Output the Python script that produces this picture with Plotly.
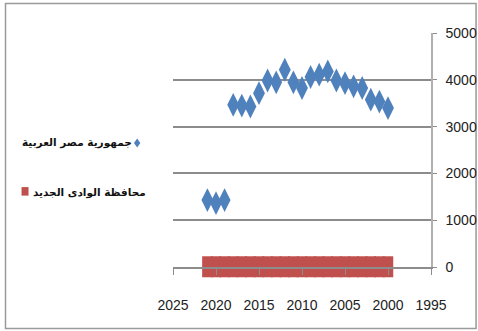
import plotly.graph_objects as go

# ---- data ----
egypt_years = [2021, 2020, 2019, 2018, 2017, 2016, 2015, 2014, 2013, 2012, 2011,
               2010, 2009, 2008, 2007, 2006, 2005, 2004, 2003, 2002, 2001, 2000]
egypt_values = [1430, 1365, 1430, 3465, 3450, 3430, 3715, 3985, 3945, 4215, 3945,
                3825, 4060, 4110, 4180, 3985, 3930, 3860, 3825, 3575, 3535, 3395]
nv_years = [2021, 2020, 2019, 2018, 2017, 2016, 2015, 2014, 2013, 2012, 2011,
            2010, 2009, 2008, 2007, 2006, 2005, 2004, 2003, 2002, 2001, 2000]
nv_values = [5, 5, 5, 5, 5, 5, 5, 5, 5, 5, 5,
             5, 5, 5, 5, 5, 5, 5, 5, 5, 5, 5]
name_egypt = "جمهورية مصر العربية"
name_nv = "محافظة الوادى الجديد"
x_ticks = [2025, 2020, 2015, 2010, 2005, 2000, 1995]
y_ticks = [0, 1000, 2000, 3000, 4000, 5000]

BLUE = "#4F81BD"
RED = "#C0504D"
GRID = "#8c8c8c"

W, H = 478, 331
ML, MR, MT, MB = 173.3, 47, 33.3, 64.3
PW = W - ML - MR
PH = H - MT - MB


def px(x):
    return (x - ML) / PW


def py(y):
    return (H - MB - y) / PH


fig = go.Figure()
fig.add_trace(go.Scatter(
    x=nv_years, y=nv_values, mode="markers", name=name_nv,
    marker=dict(symbol="line-ns", size=15, color=RED,
                line=dict(color=RED, width=10.5)),
    cliponaxis=False, showlegend=False))
fig.add_trace(go.Scatter(
    x=egypt_years, y=egypt_values, mode="markers", name=name_egypt,
    marker=dict(symbol="diamond-tall", size=17, color=BLUE,
                line=dict(width=0)),
    cliponaxis=False, showlegend=False))

font_num = "Liberation Sans, Arial, sans-serif"
font_ar = "DejaVu Sans, sans-serif"

annotations = [
    dict(x=px(133), y=py(143), xref="paper", yref="paper", text="<b>" + name_egypt + "</b>",
         showarrow=False, xanchor="right", yanchor="middle", borderpad=0,
         font=dict(family=font_ar, size=10.5, color="#111")),
    dict(x=px(32), y=py(192), xref="paper", yref="paper", text="<b>" + name_nv + "</b>",
         showarrow=False, xanchor="left", yanchor="middle", borderpad=0,
         font=dict(family=font_ar, size=10.5, color="#111")),
]

# legend glyphs (pixel positions converted to paper coordinates)
dx0, dy0 = 137.5, 143
dpath = "M {} {} L {} {} L {} {} L {} {} Z".format(
    px(dx0), py(dy0 - 4.5), px(dx0 + 3.2), py(dy0), px(dx0), py(dy0 + 4.5), px(dx0 - 3.2), py(dy0))

shapes = [
    dict(type="rect", xref="paper", yref="paper",
         x0=px(6), x1=px(476), y0=py(328), y1=py(4),
         line=dict(color="#9a9a9a", width=1.5), fillcolor="rgba(0,0,0,0)", layer="below"),
    dict(type="path", xref="paper", yref="paper", path=dpath,
         fillcolor=BLUE, line=dict(width=0)),
    dict(type="rect", xref="paper", yref="paper",
         x0=px(22), x1=px(29), y0=py(195.5), y1=py(187),
         fillcolor=RED, line=dict(width=0)),
]

fig.update_layout(
    width=W, height=H,
    margin=dict(l=ML, r=MR, t=MT, b=MB, autoexpand=False),
    paper_bgcolor="white", plot_bgcolor="white",
    showlegend=False,
    annotations=annotations,
    shapes=shapes,
    xaxis=dict(range=[2025, 1995], tickvals=x_ticks, ticks="outside", ticklen=6,
               tickcolor=GRID, showgrid=False, zeroline=False,
               showline=True, linecolor=GRID, linewidth=1.5,
               ticklabelstandoff=18, automargin=False,
               tickfont=dict(family=font_num, size=14, color="#222")),
    yaxis=dict(range=[0, 5000], tickvals=y_ticks, side="right", ticks="outside",
               ticklen=4, tickcolor=GRID, showgrid=True, gridcolor=GRID, gridwidth=1.5,
               zeroline=False, showline=True, linecolor="#b0b0b0", linewidth=1.5,
               ticklabelstandoff=6, automargin=False,
               tickfont=dict(family=font_num, size=14, color="#222")),
)

fig.write_html("out.html")
